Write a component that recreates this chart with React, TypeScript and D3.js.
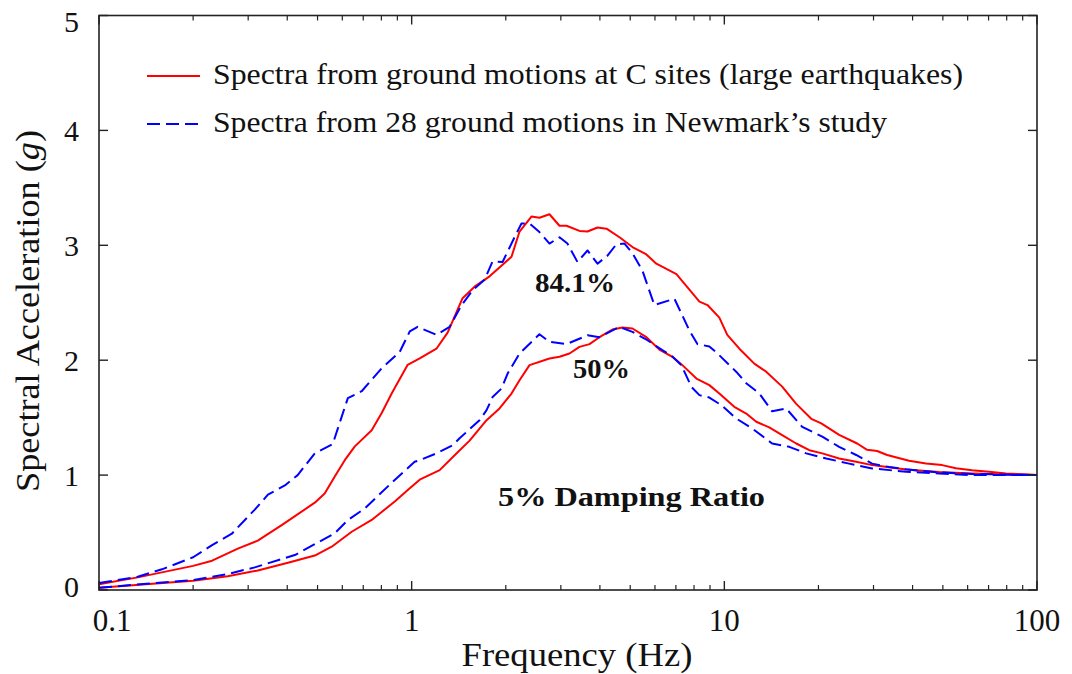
import React from "react";
import * as d3 from "d3";

// Frequency (Hz) / spectral acceleration (g) pairs
const red84F = [0.1, 0.133, 0.2, 0.23, 0.278, 0.322, 0.384, 0.49, 0.527, 0.567, 0.611, 0.658, 0.745, 0.802, 0.863, 0.971, 1.061, 1.2, 1.303, 1.455, 1.589, 1.775, 2.086, 2.213, 2.416, 2.562, 2.759, 2.97, 3.128, 3.441, 3.651, 3.929, 4.199, 4.62, 5.083, 5.633, 6.061, 7.027, 8.324, 8.833, 9.639, 10.22, 11.17, 12.47, 13.61, 15.31, 16.98, 18.97, 20.42, 23.29, 26.6, 28.62, 30.81, 33.17, 38.98, 44.18, 49.71, 55.06, 61.97, 70.25, 79.62, 100];
const red84V = [0.05, 0.11, 0.21, 0.255, 0.36, 0.43, 0.565, 0.76, 0.84, 0.985, 1.13, 1.25, 1.39, 1.54, 1.71, 1.96, 2.015, 2.1, 2.24, 2.54, 2.64, 2.73, 2.9, 3.12, 3.25, 3.24, 3.27, 3.17, 3.17, 3.125, 3.12, 3.155, 3.145, 3.07, 2.985, 2.92, 2.84, 2.75, 2.51, 2.48, 2.37, 2.22, 2.1, 1.97, 1.9, 1.77, 1.62, 1.49, 1.45, 1.35, 1.275, 1.22, 1.21, 1.175, 1.125, 1.1, 1.087, 1.06, 1.043, 1.03, 1.015, 1.0];

const blue84F = [0.1, 0.133, 0.159, 0.2, 0.23, 0.266, 0.315, 0.347, 0.393, 0.432, 0.49, 0.559, 0.625, 0.692, 0.802, 0.915, 0.986, 1.045, 1.202, 1.322, 1.445, 1.567, 1.71, 1.815, 1.953, 2.133, 2.245, 2.382, 2.562, 2.759, 2.97, 3.149, 3.39, 3.651, 3.929, 4.23, 4.518, 4.794, 5.083, 5.47, 5.973, 6.925, 7.727, 8.202, 8.955, 9.498, 10.91, 11.75, 12.94, 14.22, 15.77, 17.75, 20.57, 23.29, 26.4, 29.7, 33.65, 38.12, 48.63, 61.97, 100];
const blue84V = [0.06, 0.115, 0.18, 0.285, 0.39, 0.49, 0.7, 0.83, 0.91, 1.0, 1.19, 1.27, 1.67, 1.73, 1.93, 2.07, 2.25, 2.29, 2.22, 2.29, 2.48, 2.61, 2.7, 2.86, 2.855, 3.07, 3.19, 3.19, 3.115, 3.015, 3.07, 3.015, 2.855, 2.955, 2.84, 2.91, 3.01, 3.015, 2.93, 2.78, 2.48, 2.535, 2.26, 2.14, 2.12, 2.06, 1.9, 1.8, 1.71, 1.555, 1.58, 1.42, 1.335, 1.245, 1.175, 1.1, 1.07, 1.05, 1.023, 1.01, 1.0];

const red50F = [0.1, 0.2, 0.258, 0.322, 0.402, 0.49, 0.555, 0.643, 0.745, 0.883, 0.986, 1.061, 1.229, 1.393, 1.532, 1.736, 1.91, 2.086, 2.213, 2.382, 2.759, 2.97, 3.197, 3.441, 3.704, 3.986, 4.385, 4.72, 5.083, 5.633, 6.196, 6.821, 7.342, 8.142, 8.955, 9.639, 10.76, 11.75, 12.65, 13.92, 15.31, 16.98, 18.7, 20.57, 23.29, 26.4, 29.7, 38.12, 48.63, 61.97, 100];
const red50V = [0.02, 0.08, 0.12, 0.17, 0.237, 0.3, 0.377, 0.507, 0.61, 0.77, 0.885, 0.96, 1.043, 1.19, 1.3, 1.478, 1.58, 1.71, 1.826, 1.957, 2.015, 2.03, 2.058, 2.116, 2.14, 2.2, 2.267, 2.284, 2.276, 2.2, 2.093, 2.03, 1.957, 1.84, 1.783, 1.71, 1.594, 1.536, 1.464, 1.415, 1.348, 1.275, 1.217, 1.189, 1.145, 1.116, 1.087, 1.049, 1.026, 1.014, 1.0];

const blue50F = [0.1, 0.2, 0.258, 0.315, 0.423, 0.567, 0.625, 0.708, 0.863, 1.022, 1.061, 1.202, 1.352, 1.423, 1.648, 1.736, 1.815, 1.939, 2.027, 2.213, 2.562, 2.759, 3.128, 3.651, 3.986, 4.62, 5.083, 5.675, 6.336, 6.771, 7.288, 7.845, 8.324, 8.955, 9.778, 10.91, 12.28, 14.22, 16.13, 18.28, 21.18, 25.06, 29.7, 38.12, 48.63, 61.97, 100];
const blue50V = [0.02, 0.087, 0.139, 0.197, 0.304, 0.493, 0.609, 0.71, 0.933, 1.116, 1.13, 1.19, 1.26, 1.32, 1.478, 1.565, 1.68, 1.754, 1.884, 2.058, 2.226, 2.16, 2.14, 2.217, 2.2, 2.29, 2.246, 2.174, 2.087, 2.04, 1.957, 1.768, 1.696, 1.675, 1.609, 1.493, 1.406, 1.275, 1.246, 1.189, 1.145, 1.1, 1.058, 1.029, 1.014, 1.0, 1.0];

const xTickValues = [0.1, 1, 10, 100];
const xTickLabels = ["0.1", "1", "10", "100"];
const yTickValues = [0, 1, 2, 3, 4, 5];
const legendLabels = [
  "Spectra from ground motions at C sites (large earthquakes)",
  "Spectra from 28 ground motions in Newmark\u2019s study",
];

const W = 1072;
const H = 674;
const FONT = "Liberation Serif, Times New Roman, Times, serif";

export default function App() {
  const x = d3.scaleLog().domain([0.1, 100]).range([99, 1037]);
  const y = d3.scaleLinear().domain([0, 5]).range([590, 15.5]);
  const line = d3
    .line<[number, number]>()
    .x((d) => x(d[0]))
    .y((d) => y(d[1]));
  const zip = (f: number[], v: number[]) => f.map((ff, i) => [ff, v[i]] as [number, number]);

  const series = [
    { d: zip(red84F, red84V), color: "#ff0000", dash: null },
    { d: zip(red50F, red50V), color: "#ff0000", dash: null },
    { d: zip(blue84F, blue84V), color: "#0000ff", dash: "13,6" },
    { d: zip(blue50F, blue50V), color: "#0000ff", dash: "13,6" },
  ];

  const minor: number[] = [];
  [0.1, 1, 10].forEach((dec) => {
    for (let k = 2; k <= 9; k++) minor.push(dec * k);
  });

  const [x0, x1] = x.range();
  const [y0, y1] = y.range();
  const axisColor = "#222";

  return (
    <svg
      width={W}
      height={H}
      style={{ position: "absolute", left: 0, top: 0, background: "#fff", fontFamily: FONT }}
    >
      <rect x={0} y={0} width={W} height={H} fill="#fff" />
      {series.map((s, i) => (
        <path
          key={i}
          d={line(s.d) || ""}
          fill="none"
          stroke={s.color}
          strokeWidth={2}
          strokeDasharray={s.dash || undefined}
          strokeLinejoin="round"
        />
      ))}
      <rect x={x0} y={y1} width={x1 - x0} height={y0 - y1} fill="none" stroke={axisColor} strokeWidth={1.6} />
      {xTickValues.map((v, i) => (
        <g key={"xm" + i}>
          <line x1={x(v)} x2={x(v)} y1={y0} y2={y0 - 9} stroke={axisColor} strokeWidth={1.4} />
          <line x1={x(v)} x2={x(v)} y1={y1} y2={y1 + 9} stroke={axisColor} strokeWidth={1.4} />
        </g>
      ))}
      {minor.map((v, i) => (
        <g key={"xn" + i}>
          <line x1={x(v)} x2={x(v)} y1={y0} y2={y0 - 5} stroke={axisColor} strokeWidth={1.2} />
          <line x1={x(v)} x2={x(v)} y1={y1} y2={y1 + 5} stroke={axisColor} strokeWidth={1.2} />
        </g>
      ))}
      {yTickValues.map((v, i) => (
        <g key={"ym" + i}>
          <line x1={x0} x2={x0 + 9} y1={y(v)} y2={y(v)} stroke={axisColor} strokeWidth={1.4} />
          <line x1={x1} x2={x1 - 9} y1={y(v)} y2={y(v)} stroke={axisColor} strokeWidth={1.4} />
        </g>
      ))}
      {xTickValues.map((v, i) => (
        <text
          key={"xl" + i}
          x={i === 0 ? x(v) + 13 : x(v)}
          y={631}
          fontSize={31}
          textAnchor="middle"
          fill="#111"
        >
          {xTickLabels[i]}
        </text>
      ))}
      {yTickValues.map((v, i) => {
        let by = y(v) + 11;
        if (v === 0) by = y(v) + 7;
        if (v === 5) by = y(v) + 16.5;
        return (
          <text key={"yl" + i} x={79} y={by} fontSize={30} textAnchor="end" fill="#111">
            {String(v)}
          </text>
        );
      })}
      <text x={577} y={666} fontSize={33} textAnchor="middle" fill="#111" textLength={231} lengthAdjust="spacingAndGlyphs">
        Frequency (Hz)
      </text>
      <text
        transform={`translate(39,311) rotate(-90)`}
        fontSize={33}
        textAnchor="middle"
        fill="#111"
        textLength={362}
        lengthAdjust="spacingAndGlyphs"
      >
        Spectral Acceleration (<tspan fontStyle="italic">g</tspan>)
      </text>
      <line x1={147} x2={200} y1={76} y2={76} stroke="#ff0000" strokeWidth={2} />
      <line x1={147} x2={200} y1={124} y2={124} stroke="#0000ff" strokeWidth={2} strokeDasharray="13,6" />
      <text x={213} y={83.5} fontSize={29} fill="#111" textLength={750} lengthAdjust="spacingAndGlyphs">
        {legendLabels[0]}
      </text>
      <text x={213} y={131.5} fontSize={29} fill="#111" textLength={674} lengthAdjust="spacingAndGlyphs">
        {legendLabels[1]}
      </text>
      <text x={535} y={292} fontSize={28} fontWeight="bold" fill="#111" textLength={80} lengthAdjust="spacingAndGlyphs">
        84.1%
      </text>
      <text x={573} y={378} fontSize={28} fontWeight="bold" fill="#111" textLength={57} lengthAdjust="spacingAndGlyphs">
        50%
      </text>
      <text x={498} y={506} fontSize={28} fontWeight="bold" fill="#111" textLength={267} lengthAdjust="spacingAndGlyphs">
        5% Damping Ratio
      </text>
    </svg>
  );
}
